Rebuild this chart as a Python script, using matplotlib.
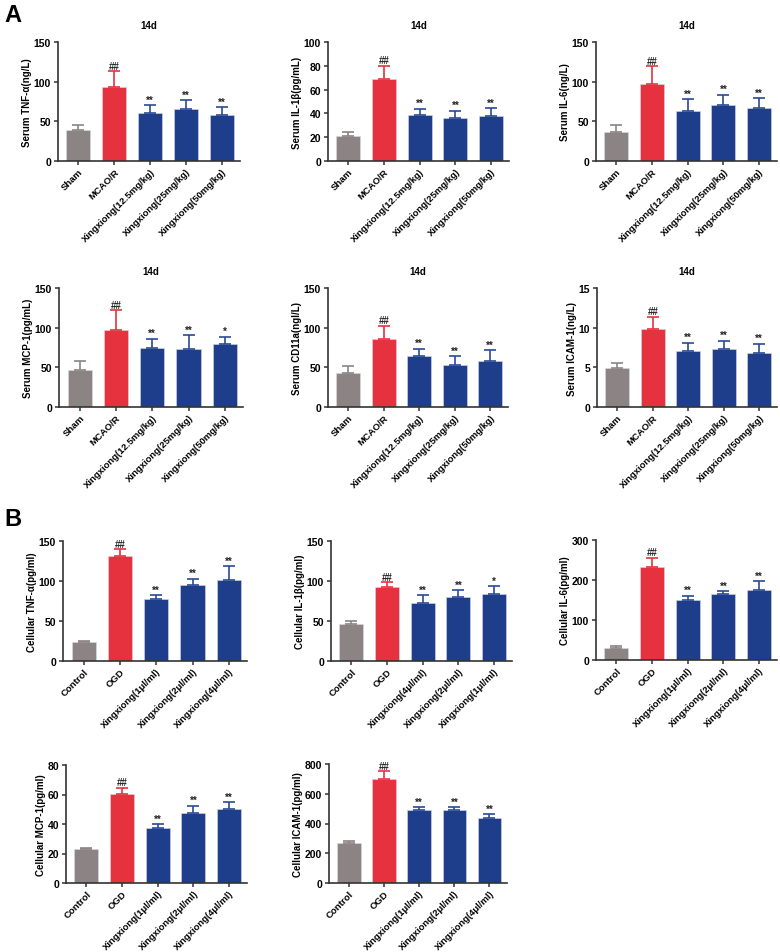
import matplotlib
matplotlib.use("Agg")
import matplotlib.pyplot as plt

plt.rcParams['font.family'] = ['Liberation Sans', 'DejaVu Sans']
plt.rcParams['font.weight'] = 'bold'

# Group names
groups_a = ["Sham", "MCAO/R", "Xingxiong(12.5mg/kg)", "Xingxiong(25mg/kg)", "Xingxiong(50mg/kg)"]
groups_b = ["Control", "OGD", "Xingxiong(1μl/ml)", "Xingxiong(2μl/ml)", "Xingxiong(4μl/ml)"]
groups_b_rev = ["Control", "OGD", "Xingxiong(4μl/ml)", "Xingxiong(2μl/ml)", "Xingxiong(1μl/ml)"]

# A - serum, 14d (mean, upper error)
tnf_serum = [38.5, 93, 60, 65, 57.5]
tnf_serum_err = [6.5, 20, 10, 11.5, 10]
il1b_serum = [21.4, 68.5, 38.7, 36.2, 37.6]
il1b_serum_err = [2.8, 11.7, 5.3, 6.1, 6.7]
il6_serum = [36.8, 97.5, 63.6, 71.1, 67.4]
il6_serum_err = [8, 22.2, 14.6, 12.6, 12.1]
mcp1_serum = [46.5, 97.2, 75, 72.9, 79.2]
mcp1_serum_err = [10.9, 24.7, 11.3, 18, 9.6]
cd11a_serum = [42.7, 85.9, 64.9, 52.8, 58.6]
cd11a_serum_err = [8.4, 16.7, 8.8, 10.9, 13.4]
icam1_serum = [4.86, 9.8, 7.04, 7.37, 6.79]
icam1_serum_err = [0.71, 1.6, 1.09, 1.01, 1.21]

# B - cells
tnf_cell = [24.2, 131.7, 77, 95, 101.3]
tnf_cell_err = [1.2, 8.3, 5, 8, 17.5]
il1b_cell = [45.8, 92.5, 72.5, 79.6, 84.2]
il1b_cell_err = [3.8, 6.3, 10, 8.7, 9.6]
il6_cell = [29.2, 232.5, 149, 164, 175.8]
il6_cell_err = [5.8, 23.3, 11.8, 8.5, 20.9]
mcp1_cell = [22.8, 60.3, 37.3, 47.6, 50.3]
mcp1_cell_err = [1.1, 4.3, 2.7, 4.9, 4.7]
icam1_cell = [269.5, 699, 492, 488, 436.6]
icam1_cell_err = [15.5, 54, 16, 24, 24.4]

# Significance marks
marks = ["", "##", "**", "**", "**"]
marks_mcp1 = ["", "##", "**", "**", "*"]
marks_il1b_cell = ["", "##", "**", "**", "*"]

bar_colors = ["#8c8484", "#e5323e", "#1e3d8a", "#1e3d8a", "#1e3d8a"]
err_colors = ["#8c8484", "#e5323e", "#2a4a96", "#2a4a96", "#2a4a96"]

W, H = 780, 953
fig = plt.figure(figsize=(W / 100, H / 100), dpi=100)


def box(left, top, right, bottom):       # pixel box -> figure fraction
    return [left / W, 1 - bottom / H, (right - left) / W, (bottom - top) / H]


def panel(rect, labels, values, errors, stars, ylabel, ymax, ystep, title=None):
    ax = fig.add_axes(box(*rect))
    x = range(len(values))
    ax.bar(x, values, width=0.67, color=bar_colors, edgecolor='#d8dbe6',
           linewidth=0.4, zorder=2)
    for i in x:
        ax.errorbar(i, values[i], yerr=[[0], [errors[i]]], color=err_colors[i],
                    elinewidth=1.2, capsize=4.3, capthick=1.2, zorder=3)
        ax.annotate(stars[i], (i, values[i] + errors[i]), xytext=(0, 0.3),
                    textcoords='offset points', ha='center', va='bottom',
                    fontsize=7, color='#222222')
    ax.set_xlim(-0.57, len(values) - 0.5)
    ax.set_ylim(0, ymax)
    ax.set_yticks([v * ystep for v in range(int(round(ymax / ystep)) + 1)])
    ax.set_xticks(list(x))
    ax.set_xticklabels(labels, rotation=45, ha='right', rotation_mode='anchor')
    ax.tick_params(width=1.1, length=3, color='#333333', pad=2)
    ax.tick_params(axis='y', labelsize=7.5)
    ax.tick_params(axis='x', labelsize=6.8, pad=1)
    ax.set_ylabel(ylabel, fontsize=7, fontweight='bold', labelpad=1)
    for s in ['top', 'right']:
        ax.spines[s].set_visible(False)
    for s in ['left', 'bottom']:
        ax.spines[s].set_linewidth(1.2)
        ax.spines[s].set_color('#333333')
    if title:
        ax.set_title(title, fontsize=7, fontweight='bold', pad=10)
    return ax


# A row 1
panel((58, 43, 240, 162), groups_a, tnf_serum, tnf_serum_err, marks,
      "Serum TNF-α(ng/L)", 150, 50, "14d")
panel((328, 43, 509, 162), groups_a, il1b_serum, il1b_serum_err, marks,
      "Serum IL-1β(pg/mL)", 100, 20, "14d")
panel((596, 43, 777, 162), groups_a, il6_serum, il6_serum_err, marks,
      "Serum IL-6(ng/L)", 150, 50, "14d")
# A row 2
panel((59, 289, 243, 408), groups_a, mcp1_serum, mcp1_serum_err, marks_mcp1,
      "Serum MCP-1(pg/mL)", 150, 50, "14d")
panel((328, 289, 508, 408), groups_a, cd11a_serum, cd11a_serum_err, marks,
      "Serum CD11a(ngl/L)", 150, 50, "14d")
panel((597, 289, 777, 408), groups_a, icam1_serum, icam1_serum_err, marks,
      "Serum ICAM-1(ng/L)", 15, 5, "14d")

# B row 1
panel((63, 542, 247, 662), groups_b, tnf_cell, tnf_cell_err, marks,
      "Cellular TNF-α(pg/ml)", 150, 50)
panel((331, 542, 512, 662), groups_b_rev, il1b_cell, il1b_cell_err, marks_il1b_cell,
      "Cellular IL-1β(pg/ml)", 150, 50)
panel((596, 541, 777, 661), groups_b, il6_cell, il6_cell_err, marks,
      "Cellular IL-6(pg/ml)", 300, 100)
# B row 2
panel((66, 766, 247, 884), groups_b, mcp1_cell, mcp1_cell_err, marks,
      "Cellular MCP-1(pg/ml)", 80, 20)
panel((329, 765, 507, 884), groups_b, icam1_cell, icam1_cell_err, marks,
      "Cellular ICAM-1(pg/ml)", 800, 200)

# Section letters
fig.text(4 / W, 1 - 16 / H, "A", fontsize=17, fontweight='bold', va='center')
fig.text(4 / W, 1 - 520 / H, "B", fontsize=17, fontweight='bold', va='center')

fig.savefig("out.png", dpi=100)
